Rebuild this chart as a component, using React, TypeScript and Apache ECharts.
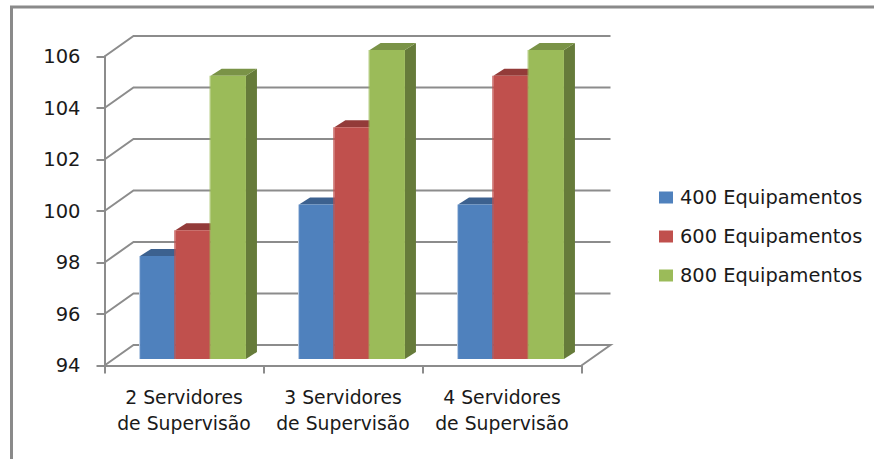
import React, { useEffect, useRef } from "react";
import * as echarts from "echarts";

const categories = ["2 Servidores\nde Supervisão", "3 Servidores\nde Supervisão", "4 Servidores\nde Supervisão"];
const seriesNames = ["400 Equipamentos", "600 Equipamentos", "800 Equipamentos"];
const values400 = [98, 100, 100];
const values600 = [99, 103, 105];
const values800 = [105, 106, 106];
const axisTicks = [94, 96, 98, 100, 102, 104, 106];

const faceColors = ["#4f81bd", "#c0504d", "#9bbb59"];
const topColors = ["#3c618f", "#933b39", "#7a9347"];
const sideColors = ["#36587f", "#843533", "#667b3a"];
const edgeColors = ["#b9cde5", "#c0504d", "#9bbb59"];

const GRID_LINE = "#8c8c8c";
const TEXT = "#1a1a1a";
const FONT = "DejaVu Sans";

// Oblique projection offsets of the back wall and of the plane the bars stand on.
const WALL_DX = 29;
const WALL_DY = -20.5;
const BAR_DX = 9;
const BAR_DY = -6.5;
const DEPTH_DX = 11;
const DEPTH_DY = -7;
const BAR_RATIO = 35.3 / 159;

const renderWall = (_params: any, api: any) => {
  const value = api.value(0);
  const left = api.coord([0, value]);
  const right = api.coord([categories.length - 1, value]);
  const half = api.size([1, 0])[0] / 2;
  const x0 = left[0] - half;
  const x1 = right[0] + half;
  const y = left[1];
  const points =
    value === axisTicks[0]
      ? [[x0, y], [x0 + WALL_DX, y + WALL_DY], [x1 + WALL_DX, y + WALL_DY], [x1, y]]
      : [[x0, y], [x0 + WALL_DX, y + WALL_DY], [x1 + WALL_DX, y + WALL_DY]];
  return {
    type: "polyline",
    shape: { points },
    style: { stroke: GRID_LINE, lineWidth: 2, fill: "none" },
  };
};

const renderBar = (params: any, api: any) => {
  const s = params.seriesIndex - 1;
  const centre = api.coord([api.value(0), api.value(1)]);
  const base = api.coord([api.value(0), axisTicks[0]]);
  const width = api.size([1, 0])[0] * BAR_RATIO;
  const x = centre[0] + BAR_DX + (s - 1.5) * width;
  const top = centre[1] + BAR_DY;
  const bottom = base[1] + BAR_DY;
  return {
    type: "group",
    children: [
      {
        type: "polygon",
        shape: { points: [[x + width, top], [x + width + DEPTH_DX, top + DEPTH_DY], [x + width + DEPTH_DX, bottom + DEPTH_DY], [x + width, bottom]] },
        style: { fill: sideColors[s] },
      },
      {
        type: "polygon",
        shape: { points: [[x, top], [x + DEPTH_DX, top + DEPTH_DY], [x + width + DEPTH_DX, top + DEPTH_DY], [x + width, top]] },
        style: { fill: topColors[s] },
      },
      { type: "rect", shape: { x, y: top, width, height: bottom - top }, style: { fill: faceColors[s] } },
      { type: "rect", shape: { x: x - 1, y: top, width: 1, height: bottom - top }, style: { fill: edgeColors[s] } },
    ],
  };
};

const barSeries = [values400, values600, values800].map((values, s) => ({
  type: "custom",
  name: seriesNames[s],
  renderItem: renderBar,
  itemStyle: { color: faceColors[s] },
  encode: { x: 0, y: 1 },
  clip: false,
  z: 3 + s,
  data: values.map((v, i) => [i, v]),
}));

export default function App() {
  const ref = useRef<HTMLDivElement>(null);

  useEffect(() => {
    const chart = echarts.init(ref.current!, undefined, { renderer: "svg" });
    chart.setOption({
      animation: false,
      backgroundColor: "#ffffff",
      grid: { left: 104.5, top: 56.5, width: 477, height: 309 },
      xAxis: {
        type: "category",
        data: categories,
        boundaryGap: true,
        axisLine: { lineStyle: { color: GRID_LINE, width: 2 } },
        axisTick: { show: true, length: 8, alignWithLabel: false, lineStyle: { color: GRID_LINE, width: 2 } },
        axisLabel: { color: TEXT, fontFamily: FONT, fontSize: 18.8, lineHeight: 26, margin: 19, interval: 0 },
      },
      yAxis: {
        type: "value",
        min: 94,
        max: 106,
        interval: 2,
        axisLine: { show: true, lineStyle: { color: GRID_LINE, width: 2 } },
        axisTick: { show: true, length: 8, lineStyle: { color: GRID_LINE, width: 2 } },
        splitLine: { show: false },
        axisLabel: { color: TEXT, fontFamily: FONT, fontSize: 19.5, margin: 24 },
      },
      legend: {
        orient: "vertical",
        left: 654,
        top: 183,
        icon: "rect",
        itemWidth: 14,
        itemHeight: 12,
        itemGap: 20,
        data: seriesNames,
        selectedMode: false,
        textStyle: { color: TEXT, fontFamily: FONT, fontSize: 19.4, padding: [0, 0, 0, 2] },
      },
      graphic: [
        {
          type: "polyline",
          shape: { points: [[11.5, 459], [11.5, 7], [874, 7]] },
          style: { stroke: "#8a8a8a", lineWidth: 3, fill: "none" },
        },
      ],
      series: [
        {
          type: "custom",
          name: "grade",
          renderItem: renderWall,
          encode: { y: 0 },
          clip: false,
          silent: true,
          z: 1,
          data: axisTicks.map((t) => [t]),
        },
        ...barSeries,
      ],
    });
    return () => chart.dispose();
  }, []);

  return <div ref={ref} style={{ position: "absolute", left: 0, top: 0, width: 874, height: 459 }} />;
}
